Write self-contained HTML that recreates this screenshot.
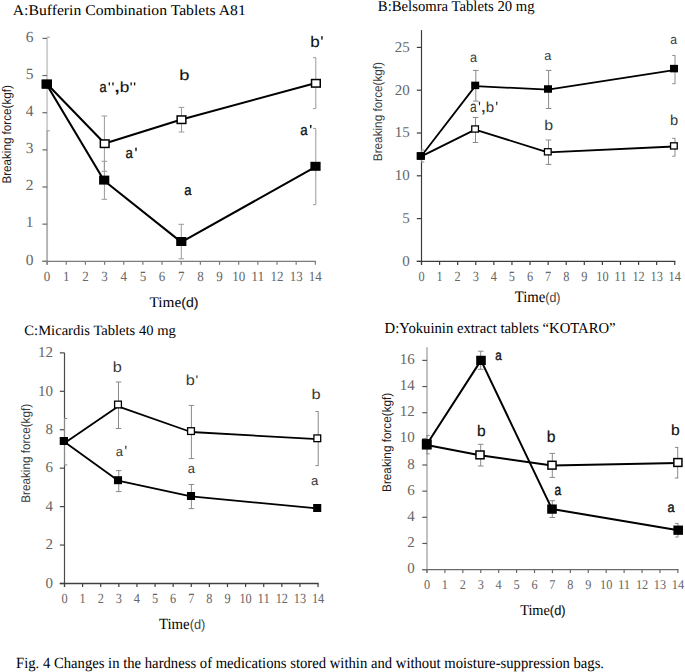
<!DOCTYPE html>
<html><head><meta charset="utf-8"><style>
html,body{margin:0;padding:0;background:#fff;overflow:hidden;width:685px;height:672px;}
svg{display:block;text-rendering:geometricPrecision;}
.S{font-family:"Liberation Serif", serif;}
.A{font-family:"Liberation Sans", sans-serif;}
</style></head><body>
<svg width="685" height="672" viewBox="0 0 685 672">
<rect width="685" height="672" fill="#fff"/>
<line x1="47.1" y1="38.4" x2="47.1" y2="130.8" stroke="#cfcfcf" stroke-width="1.9"/>
<line x1="47.1" y1="130.8" x2="47.1" y2="264.8" stroke="#b2b2b2" stroke-width="1.9"/>
<line x1="42.4" y1="261.30" x2="47.1" y2="261.30" stroke="#6a6a6a" stroke-width="1.2"/>
<line x1="42.4" y1="224.15" x2="47.1" y2="224.15" stroke="#6a6a6a" stroke-width="1.2"/>
<line x1="42.4" y1="187.00" x2="47.1" y2="187.00" stroke="#6a6a6a" stroke-width="1.2"/>
<line x1="42.4" y1="149.85" x2="47.1" y2="149.85" stroke="#6a6a6a" stroke-width="1.2"/>
<line x1="42.4" y1="112.70" x2="47.1" y2="112.70" stroke="#6a6a6a" stroke-width="1.2"/>
<line x1="42.4" y1="75.55" x2="47.1" y2="75.55" stroke="#6a6a6a" stroke-width="1.2"/>
<line x1="42.4" y1="38.40" x2="47.1" y2="38.40" stroke="#6a6a6a" stroke-width="1.2"/>
<line x1="42.4" y1="261.3" x2="315.94000000000005" y2="261.3" stroke="#7a7a7a" stroke-width="1.3"/>
<line x1="47.10" y1="261.3" x2="47.10" y2="264.8" stroke="#7a7a7a" stroke-width="1.2"/>
<line x1="66.26" y1="261.3" x2="66.26" y2="264.8" stroke="#7a7a7a" stroke-width="1.2"/>
<line x1="85.42" y1="261.3" x2="85.42" y2="264.8" stroke="#7a7a7a" stroke-width="1.2"/>
<line x1="104.58" y1="261.3" x2="104.58" y2="264.8" stroke="#7a7a7a" stroke-width="1.2"/>
<line x1="123.74" y1="261.3" x2="123.74" y2="264.8" stroke="#7a7a7a" stroke-width="1.2"/>
<line x1="142.90" y1="261.3" x2="142.90" y2="264.8" stroke="#7a7a7a" stroke-width="1.2"/>
<line x1="162.06" y1="261.3" x2="162.06" y2="264.8" stroke="#7a7a7a" stroke-width="1.2"/>
<line x1="181.22" y1="261.3" x2="181.22" y2="264.8" stroke="#7a7a7a" stroke-width="1.2"/>
<line x1="200.38" y1="261.3" x2="200.38" y2="264.8" stroke="#7a7a7a" stroke-width="1.2"/>
<line x1="219.54" y1="261.3" x2="219.54" y2="264.8" stroke="#7a7a7a" stroke-width="1.2"/>
<line x1="238.70" y1="261.3" x2="238.70" y2="264.8" stroke="#7a7a7a" stroke-width="1.2"/>
<line x1="257.86" y1="261.3" x2="257.86" y2="264.8" stroke="#7a7a7a" stroke-width="1.2"/>
<line x1="277.02" y1="261.3" x2="277.02" y2="264.8" stroke="#7a7a7a" stroke-width="1.2"/>
<line x1="296.18" y1="261.3" x2="296.18" y2="264.8" stroke="#7a7a7a" stroke-width="1.2"/>
<line x1="315.34" y1="261.3" x2="315.34" y2="264.8" stroke="#7a7a7a" stroke-width="1.2"/>
<line x1="104.4" y1="116" x2="104.4" y2="171.3" stroke="#9a9a9a" stroke-width="1"/>
<line x1="101.60000000000001" y1="116" x2="107.2" y2="116" stroke="#9a9a9a" stroke-width="1"/>
<line x1="101.60000000000001" y1="171.3" x2="107.2" y2="171.3" stroke="#9a9a9a" stroke-width="1"/>
<line x1="181.5" y1="107.4" x2="181.5" y2="132" stroke="#9a9a9a" stroke-width="1"/>
<line x1="178.7" y1="107.4" x2="184.3" y2="107.4" stroke="#9a9a9a" stroke-width="1"/>
<line x1="178.7" y1="132" x2="184.3" y2="132" stroke="#9a9a9a" stroke-width="1"/>
<line x1="315.8" y1="57.7" x2="315.8" y2="108.6" stroke="#9a9a9a" stroke-width="1"/>
<line x1="313.0" y1="57.7" x2="315.84000000000003" y2="57.7" stroke="#9a9a9a" stroke-width="1"/>
<line x1="313.0" y1="108.6" x2="315.84000000000003" y2="108.6" stroke="#9a9a9a" stroke-width="1"/>
<line x1="104.4" y1="161.3" x2="104.4" y2="199.3" stroke="#9a9a9a" stroke-width="1"/>
<line x1="101.60000000000001" y1="161.3" x2="107.2" y2="161.3" stroke="#9a9a9a" stroke-width="1"/>
<line x1="101.60000000000001" y1="199.3" x2="107.2" y2="199.3" stroke="#9a9a9a" stroke-width="1"/>
<line x1="181.3" y1="224.3" x2="181.3" y2="258.8" stroke="#9a9a9a" stroke-width="1"/>
<line x1="178.5" y1="224.3" x2="184.10000000000002" y2="224.3" stroke="#9a9a9a" stroke-width="1"/>
<line x1="178.5" y1="258.8" x2="184.10000000000002" y2="258.8" stroke="#9a9a9a" stroke-width="1"/>
<line x1="315.8" y1="128.4" x2="315.8" y2="204.7" stroke="#9a9a9a" stroke-width="1"/>
<line x1="313.0" y1="128.4" x2="315.84000000000003" y2="128.4" stroke="#9a9a9a" stroke-width="1"/>
<line x1="313.0" y1="204.7" x2="315.84000000000003" y2="204.7" stroke="#9a9a9a" stroke-width="1"/>
<line x1="46.6" y1="37.2" x2="49.9" y2="37.2" stroke="#9a9a9a" stroke-width="1"/>
<line x1="46.6" y1="130.8" x2="49.9" y2="130.8" stroke="#9a9a9a" stroke-width="1"/>
<polyline points="46.80,83.80 104.70,143.40 181.50,119.40 315.90,83.00" fill="none" stroke="#000" stroke-width="2.1" stroke-linejoin="round"/>
<polyline points="46.80,84.70 104.20,180.70 181.30,242.10 315.50,166.90" fill="none" stroke="#000" stroke-width="2.1" stroke-linejoin="round"/>
<rect x="42.45" y="80.35" width="8.70" height="7.50" fill="#fff" stroke="#000" stroke-width="1.5"/>
<rect x="100.35" y="139.95" width="8.70" height="7.50" fill="#fff" stroke="#000" stroke-width="1.5"/>
<rect x="177.15" y="115.95" width="8.70" height="7.50" fill="#fff" stroke="#000" stroke-width="1.5"/>
<rect x="311.55" y="79.55" width="8.70" height="7.50" fill="#fff" stroke="#000" stroke-width="1.5"/>
<rect x="41.70" y="79.60" width="10.2" height="9.0" fill="#000"/>
<rect x="99.10" y="175.60" width="10.2" height="9.0" fill="#000"/>
<rect x="176.20" y="237.00" width="10.2" height="9.0" fill="#000"/>
<rect x="310.40" y="161.80" width="10.2" height="9.0" fill="#000"/>
<line x1="421.5" y1="30.1" x2="421.5" y2="264.9" stroke="#3c3c3c" stroke-width="1.2"/>
<line x1="416.8" y1="261.40" x2="421.5" y2="261.40" stroke="#3c3c3c" stroke-width="1.2"/>
<line x1="416.8" y1="218.60" x2="421.5" y2="218.60" stroke="#3c3c3c" stroke-width="1.2"/>
<line x1="416.8" y1="175.80" x2="421.5" y2="175.80" stroke="#3c3c3c" stroke-width="1.2"/>
<line x1="416.8" y1="133.00" x2="421.5" y2="133.00" stroke="#3c3c3c" stroke-width="1.2"/>
<line x1="416.8" y1="90.20" x2="421.5" y2="90.20" stroke="#3c3c3c" stroke-width="1.2"/>
<line x1="416.8" y1="47.40" x2="421.5" y2="47.40" stroke="#3c3c3c" stroke-width="1.2"/>
<line x1="416.8" y1="261.4" x2="675.36" y2="261.4" stroke="#3c3c3c" stroke-width="1.3"/>
<line x1="421.50" y1="261.4" x2="421.50" y2="264.9" stroke="#3c3c3c" stroke-width="1.2"/>
<line x1="439.59" y1="261.4" x2="439.59" y2="264.9" stroke="#3c3c3c" stroke-width="1.2"/>
<line x1="457.68" y1="261.4" x2="457.68" y2="264.9" stroke="#3c3c3c" stroke-width="1.2"/>
<line x1="475.77" y1="261.4" x2="475.77" y2="264.9" stroke="#3c3c3c" stroke-width="1.2"/>
<line x1="493.86" y1="261.4" x2="493.86" y2="264.9" stroke="#3c3c3c" stroke-width="1.2"/>
<line x1="511.95" y1="261.4" x2="511.95" y2="264.9" stroke="#3c3c3c" stroke-width="1.2"/>
<line x1="530.04" y1="261.4" x2="530.04" y2="264.9" stroke="#3c3c3c" stroke-width="1.2"/>
<line x1="548.13" y1="261.4" x2="548.13" y2="264.9" stroke="#3c3c3c" stroke-width="1.2"/>
<line x1="566.22" y1="261.4" x2="566.22" y2="264.9" stroke="#3c3c3c" stroke-width="1.2"/>
<line x1="584.31" y1="261.4" x2="584.31" y2="264.9" stroke="#3c3c3c" stroke-width="1.2"/>
<line x1="602.40" y1="261.4" x2="602.40" y2="264.9" stroke="#3c3c3c" stroke-width="1.2"/>
<line x1="620.49" y1="261.4" x2="620.49" y2="264.9" stroke="#3c3c3c" stroke-width="1.2"/>
<line x1="638.58" y1="261.4" x2="638.58" y2="264.9" stroke="#3c3c3c" stroke-width="1.2"/>
<line x1="656.67" y1="261.4" x2="656.67" y2="264.9" stroke="#3c3c3c" stroke-width="1.2"/>
<line x1="674.76" y1="261.4" x2="674.76" y2="264.9" stroke="#3c3c3c" stroke-width="1.2"/>
<line x1="475.5" y1="117.5" x2="475.5" y2="142.5" stroke="#8a8a8a" stroke-width="1"/>
<line x1="472.7" y1="117.5" x2="478.3" y2="117.5" stroke="#8a8a8a" stroke-width="1"/>
<line x1="472.7" y1="142.5" x2="478.3" y2="142.5" stroke="#8a8a8a" stroke-width="1"/>
<line x1="548.5" y1="140" x2="548.5" y2="164.4" stroke="#8a8a8a" stroke-width="1"/>
<line x1="545.7" y1="140" x2="551.3" y2="140" stroke="#8a8a8a" stroke-width="1"/>
<line x1="545.7" y1="164.4" x2="551.3" y2="164.4" stroke="#8a8a8a" stroke-width="1"/>
<line x1="675.0" y1="138.3" x2="675.0" y2="156.2" stroke="#8a8a8a" stroke-width="1"/>
<line x1="672.2" y1="138.3" x2="675.26" y2="138.3" stroke="#8a8a8a" stroke-width="1"/>
<line x1="672.2" y1="156.2" x2="675.26" y2="156.2" stroke="#8a8a8a" stroke-width="1"/>
<line x1="475.8" y1="70.4" x2="475.8" y2="101.1" stroke="#8a8a8a" stroke-width="1"/>
<line x1="473.0" y1="70.4" x2="478.6" y2="70.4" stroke="#8a8a8a" stroke-width="1"/>
<line x1="473.0" y1="101.1" x2="478.6" y2="101.1" stroke="#8a8a8a" stroke-width="1"/>
<line x1="548.6" y1="70.4" x2="548.6" y2="108.5" stroke="#8a8a8a" stroke-width="1"/>
<line x1="545.8000000000001" y1="70.4" x2="551.4" y2="70.4" stroke="#8a8a8a" stroke-width="1"/>
<line x1="545.8000000000001" y1="108.5" x2="551.4" y2="108.5" stroke="#8a8a8a" stroke-width="1"/>
<line x1="675.0" y1="55.4" x2="675.0" y2="83.7" stroke="#8a8a8a" stroke-width="1"/>
<line x1="672.2" y1="55.4" x2="675.26" y2="55.4" stroke="#8a8a8a" stroke-width="1"/>
<line x1="672.2" y1="83.7" x2="675.26" y2="83.7" stroke="#8a8a8a" stroke-width="1"/>
<line x1="421.5" y1="150" x2="421.5" y2="162" stroke="#8a8a8a" stroke-width="1"/>
<line x1="421.0" y1="150" x2="424.3" y2="150" stroke="#8a8a8a" stroke-width="1"/>
<line x1="421.0" y1="162" x2="424.3" y2="162" stroke="#8a8a8a" stroke-width="1"/>
<polyline points="420.80,156.60 475.10,129.60 547.80,152.40 673.90,146.50" fill="none" stroke="#000" stroke-width="1.8" stroke-linejoin="round"/>
<polyline points="420.80,156.70 475.20,86.10 548.00,89.70 674.00,70.10" fill="none" stroke="#000" stroke-width="1.8" stroke-linejoin="round"/>
<rect x="417.45" y="152.90" width="6.70" height="6.20" fill="#fff" stroke="#000" stroke-width="1.3"/>
<rect x="471.75" y="125.90" width="6.70" height="6.20" fill="#fff" stroke="#000" stroke-width="1.3"/>
<rect x="544.45" y="148.70" width="6.70" height="6.20" fill="#fff" stroke="#000" stroke-width="1.3"/>
<rect x="670.55" y="142.80" width="6.70" height="6.20" fill="#fff" stroke="#000" stroke-width="1.3"/>
<rect x="416.80" y="152.25" width="8.0" height="7.5" fill="#000"/>
<rect x="471.20" y="81.65" width="8.0" height="7.5" fill="#000"/>
<rect x="544.00" y="85.25" width="8.0" height="7.5" fill="#000"/>
<rect x="670.00" y="64.85" width="8.0" height="7.5" fill="#000"/>
<line x1="64.5" y1="352.8" x2="64.5" y2="587.0" stroke="#4a4a4a" stroke-width="1.2"/>
<line x1="59.8" y1="583.50" x2="64.5" y2="583.50" stroke="#4a4a4a" stroke-width="1.2"/>
<line x1="59.8" y1="545.06" x2="64.5" y2="545.06" stroke="#4a4a4a" stroke-width="1.2"/>
<line x1="59.8" y1="506.62" x2="64.5" y2="506.62" stroke="#4a4a4a" stroke-width="1.2"/>
<line x1="59.8" y1="468.18" x2="64.5" y2="468.18" stroke="#4a4a4a" stroke-width="1.2"/>
<line x1="59.8" y1="429.74" x2="64.5" y2="429.74" stroke="#4a4a4a" stroke-width="1.2"/>
<line x1="59.8" y1="391.30" x2="64.5" y2="391.30" stroke="#4a4a4a" stroke-width="1.2"/>
<line x1="59.8" y1="352.86" x2="64.5" y2="352.86" stroke="#4a4a4a" stroke-width="1.2"/>
<line x1="59.8" y1="583.5" x2="318.64" y2="583.5" stroke="#404040" stroke-width="1.3"/>
<line x1="64.50" y1="583.5" x2="64.50" y2="587.0" stroke="#404040" stroke-width="1.2"/>
<line x1="82.61" y1="583.5" x2="82.61" y2="587.0" stroke="#404040" stroke-width="1.2"/>
<line x1="100.72" y1="583.5" x2="100.72" y2="587.0" stroke="#404040" stroke-width="1.2"/>
<line x1="118.83" y1="583.5" x2="118.83" y2="587.0" stroke="#404040" stroke-width="1.2"/>
<line x1="136.94" y1="583.5" x2="136.94" y2="587.0" stroke="#404040" stroke-width="1.2"/>
<line x1="155.05" y1="583.5" x2="155.05" y2="587.0" stroke="#404040" stroke-width="1.2"/>
<line x1="173.16" y1="583.5" x2="173.16" y2="587.0" stroke="#404040" stroke-width="1.2"/>
<line x1="191.27" y1="583.5" x2="191.27" y2="587.0" stroke="#404040" stroke-width="1.2"/>
<line x1="209.38" y1="583.5" x2="209.38" y2="587.0" stroke="#404040" stroke-width="1.2"/>
<line x1="227.49" y1="583.5" x2="227.49" y2="587.0" stroke="#404040" stroke-width="1.2"/>
<line x1="245.60" y1="583.5" x2="245.60" y2="587.0" stroke="#404040" stroke-width="1.2"/>
<line x1="263.71" y1="583.5" x2="263.71" y2="587.0" stroke="#404040" stroke-width="1.2"/>
<line x1="281.82" y1="583.5" x2="281.82" y2="587.0" stroke="#404040" stroke-width="1.2"/>
<line x1="299.93" y1="583.5" x2="299.93" y2="587.0" stroke="#404040" stroke-width="1.2"/>
<line x1="318.04" y1="583.5" x2="318.04" y2="587.0" stroke="#404040" stroke-width="1.2"/>
<line x1="118.5" y1="382" x2="118.5" y2="428.5" stroke="#8a8a8a" stroke-width="1"/>
<line x1="115.7" y1="382" x2="121.3" y2="382" stroke="#8a8a8a" stroke-width="1"/>
<line x1="115.7" y1="428.5" x2="121.3" y2="428.5" stroke="#8a8a8a" stroke-width="1"/>
<line x1="191.4" y1="405.4" x2="191.4" y2="458.6" stroke="#8a8a8a" stroke-width="1"/>
<line x1="188.6" y1="405.4" x2="194.20000000000002" y2="405.4" stroke="#8a8a8a" stroke-width="1"/>
<line x1="188.6" y1="458.6" x2="194.20000000000002" y2="458.6" stroke="#8a8a8a" stroke-width="1"/>
<line x1="318.2" y1="411.5" x2="318.2" y2="465.6" stroke="#8a8a8a" stroke-width="1"/>
<line x1="315.4" y1="411.5" x2="318.53999999999996" y2="411.5" stroke="#8a8a8a" stroke-width="1"/>
<line x1="315.4" y1="465.6" x2="318.53999999999996" y2="465.6" stroke="#8a8a8a" stroke-width="1"/>
<line x1="118.75" y1="470.6" x2="118.75" y2="491.6" stroke="#8a8a8a" stroke-width="1"/>
<line x1="115.95" y1="470.6" x2="121.55" y2="470.6" stroke="#8a8a8a" stroke-width="1"/>
<line x1="115.95" y1="491.6" x2="121.55" y2="491.6" stroke="#8a8a8a" stroke-width="1"/>
<line x1="191.4" y1="484.5" x2="191.4" y2="508.6" stroke="#8a8a8a" stroke-width="1"/>
<line x1="188.6" y1="484.5" x2="194.20000000000002" y2="484.5" stroke="#8a8a8a" stroke-width="1"/>
<line x1="188.6" y1="508.6" x2="194.20000000000002" y2="508.6" stroke="#8a8a8a" stroke-width="1"/>
<line x1="318" y1="505" x2="318" y2="511" stroke="#8a8a8a" stroke-width="1"/>
<line x1="315.2" y1="505" x2="318.53999999999996" y2="505" stroke="#8a8a8a" stroke-width="1"/>
<line x1="315.2" y1="511" x2="318.53999999999996" y2="511" stroke="#8a8a8a" stroke-width="1"/>
<line x1="64.5" y1="418.5" x2="64.5" y2="464.9" stroke="#8a8a8a" stroke-width="1"/>
<line x1="64.0" y1="418.5" x2="67.3" y2="418.5" stroke="#8a8a8a" stroke-width="1"/>
<line x1="64.0" y1="464.9" x2="67.3" y2="464.9" stroke="#8a8a8a" stroke-width="1"/>
<polyline points="63.90,443.40 118.00,406.40 191.00,432.00 317.30,439.20" fill="none" stroke="#000" stroke-width="1.8" stroke-linejoin="round"/>
<polyline points="63.90,441.40 118.00,480.60 191.00,496.40 317.20,508.40" fill="none" stroke="#000" stroke-width="1.8" stroke-linejoin="round"/>
<rect x="60.50" y="437.65" width="6.80" height="6.70" fill="#fff" stroke="#000" stroke-width="1.3"/>
<rect x="114.60" y="401.15" width="6.80" height="6.70" fill="#fff" stroke="#000" stroke-width="1.3"/>
<rect x="187.60" y="427.75" width="6.80" height="6.70" fill="#fff" stroke="#000" stroke-width="1.3"/>
<rect x="313.90" y="434.95" width="6.80" height="6.70" fill="#fff" stroke="#000" stroke-width="1.3"/>
<rect x="59.85" y="437.00" width="8.1" height="8.0" fill="#000"/>
<rect x="113.95" y="476.20" width="8.1" height="8.0" fill="#000"/>
<rect x="186.95" y="492.00" width="8.1" height="8.0" fill="#000"/>
<rect x="313.15" y="504.00" width="8.1" height="8.0" fill="#000"/>
<line x1="427.0" y1="347.3" x2="427.0" y2="573.1" stroke="#bebebe" stroke-width="1.9"/>
<line x1="422.3" y1="569.60" x2="427.0" y2="569.60" stroke="#5a5a5a" stroke-width="1.2"/>
<line x1="422.3" y1="543.45" x2="427.0" y2="543.45" stroke="#5a5a5a" stroke-width="1.2"/>
<line x1="422.3" y1="517.30" x2="427.0" y2="517.30" stroke="#5a5a5a" stroke-width="1.2"/>
<line x1="422.3" y1="491.15" x2="427.0" y2="491.15" stroke="#5a5a5a" stroke-width="1.2"/>
<line x1="422.3" y1="465.00" x2="427.0" y2="465.00" stroke="#5a5a5a" stroke-width="1.2"/>
<line x1="422.3" y1="438.85" x2="427.0" y2="438.85" stroke="#5a5a5a" stroke-width="1.2"/>
<line x1="422.3" y1="412.70" x2="427.0" y2="412.70" stroke="#5a5a5a" stroke-width="1.2"/>
<line x1="422.3" y1="386.55" x2="427.0" y2="386.55" stroke="#5a5a5a" stroke-width="1.2"/>
<line x1="422.3" y1="360.40" x2="427.0" y2="360.40" stroke="#5a5a5a" stroke-width="1.2"/>
<line x1="422.3" y1="569.6" x2="678.48" y2="569.6" stroke="#6a6a6a" stroke-width="1.3"/>
<line x1="427.00" y1="569.6" x2="427.00" y2="573.1" stroke="#6a6a6a" stroke-width="1.2"/>
<line x1="444.92" y1="569.6" x2="444.92" y2="573.1" stroke="#6a6a6a" stroke-width="1.2"/>
<line x1="462.84" y1="569.6" x2="462.84" y2="573.1" stroke="#6a6a6a" stroke-width="1.2"/>
<line x1="480.76" y1="569.6" x2="480.76" y2="573.1" stroke="#6a6a6a" stroke-width="1.2"/>
<line x1="498.68" y1="569.6" x2="498.68" y2="573.1" stroke="#6a6a6a" stroke-width="1.2"/>
<line x1="516.60" y1="569.6" x2="516.60" y2="573.1" stroke="#6a6a6a" stroke-width="1.2"/>
<line x1="534.52" y1="569.6" x2="534.52" y2="573.1" stroke="#6a6a6a" stroke-width="1.2"/>
<line x1="552.44" y1="569.6" x2="552.44" y2="573.1" stroke="#6a6a6a" stroke-width="1.2"/>
<line x1="570.36" y1="569.6" x2="570.36" y2="573.1" stroke="#6a6a6a" stroke-width="1.2"/>
<line x1="588.28" y1="569.6" x2="588.28" y2="573.1" stroke="#6a6a6a" stroke-width="1.2"/>
<line x1="606.20" y1="569.6" x2="606.20" y2="573.1" stroke="#6a6a6a" stroke-width="1.2"/>
<line x1="624.12" y1="569.6" x2="624.12" y2="573.1" stroke="#6a6a6a" stroke-width="1.2"/>
<line x1="642.04" y1="569.6" x2="642.04" y2="573.1" stroke="#6a6a6a" stroke-width="1.2"/>
<line x1="659.96" y1="569.6" x2="659.96" y2="573.1" stroke="#6a6a6a" stroke-width="1.2"/>
<line x1="677.88" y1="569.6" x2="677.88" y2="573.1" stroke="#6a6a6a" stroke-width="1.2"/>
<line x1="480.7" y1="444.3" x2="480.7" y2="466" stroke="#8a8a8a" stroke-width="1"/>
<line x1="477.9" y1="444.3" x2="483.5" y2="444.3" stroke="#8a8a8a" stroke-width="1"/>
<line x1="477.9" y1="466" x2="483.5" y2="466" stroke="#8a8a8a" stroke-width="1"/>
<line x1="552.3" y1="453.4" x2="552.3" y2="477.4" stroke="#8a8a8a" stroke-width="1"/>
<line x1="549.5" y1="453.4" x2="555.0999999999999" y2="453.4" stroke="#8a8a8a" stroke-width="1"/>
<line x1="549.5" y1="477.4" x2="555.0999999999999" y2="477.4" stroke="#8a8a8a" stroke-width="1"/>
<line x1="677.7" y1="447.4" x2="677.7" y2="478" stroke="#8a8a8a" stroke-width="1"/>
<line x1="674.9000000000001" y1="447.4" x2="678.38" y2="447.4" stroke="#8a8a8a" stroke-width="1"/>
<line x1="674.9000000000001" y1="478" x2="678.38" y2="478" stroke="#8a8a8a" stroke-width="1"/>
<line x1="480.7" y1="351.2" x2="480.7" y2="369.3" stroke="#8a8a8a" stroke-width="1"/>
<line x1="477.9" y1="351.2" x2="483.5" y2="351.2" stroke="#8a8a8a" stroke-width="1"/>
<line x1="477.9" y1="369.3" x2="483.5" y2="369.3" stroke="#8a8a8a" stroke-width="1"/>
<line x1="552.3" y1="500.7" x2="552.3" y2="517.5" stroke="#8a8a8a" stroke-width="1"/>
<line x1="549.5" y1="500.7" x2="555.0999999999999" y2="500.7" stroke="#8a8a8a" stroke-width="1"/>
<line x1="549.5" y1="517.5" x2="555.0999999999999" y2="517.5" stroke="#8a8a8a" stroke-width="1"/>
<line x1="678" y1="523.4" x2="678" y2="537" stroke="#8a8a8a" stroke-width="1"/>
<line x1="675.2" y1="523.4" x2="678.38" y2="523.4" stroke="#8a8a8a" stroke-width="1"/>
<line x1="675.2" y1="537" x2="678.38" y2="537" stroke="#8a8a8a" stroke-width="1"/>
<line x1="427" y1="435.4" x2="427" y2="453.9" stroke="#8a8a8a" stroke-width="1"/>
<line x1="426.5" y1="435.4" x2="429.8" y2="435.4" stroke="#8a8a8a" stroke-width="1"/>
<line x1="426.5" y1="453.9" x2="429.8" y2="453.9" stroke="#8a8a8a" stroke-width="1"/>
<polyline points="426.70,444.90 480.00,455.30 552.00,465.60 677.90,462.90" fill="none" stroke="#000" stroke-width="2.0" stroke-linejoin="round"/>
<polyline points="426.70,444.50 481.00,360.40 552.00,509.10 678.20,530.20" fill="none" stroke="#000" stroke-width="2.0" stroke-linejoin="round"/>
<rect x="422.65" y="440.60" width="8.10" height="7.80" fill="#fff" stroke="#000" stroke-width="1.5"/>
<rect x="475.95" y="451.00" width="8.10" height="7.80" fill="#fff" stroke="#000" stroke-width="1.5"/>
<rect x="547.95" y="461.30" width="8.10" height="7.80" fill="#fff" stroke="#000" stroke-width="1.5"/>
<rect x="673.85" y="458.60" width="8.10" height="7.80" fill="#fff" stroke="#000" stroke-width="1.5"/>
<rect x="421.90" y="439.10" width="9.6" height="10.4" fill="#000"/>
<rect x="476.20" y="355.75" width="9.6" height="9.3" fill="#000"/>
<rect x="547.20" y="504.45" width="9.6" height="9.3" fill="#000"/>
<rect x="673.40" y="525.55" width="9.6" height="9.3" fill="#000"/>
<text id="Ay0" x="33.50" y="264.60" class="S" font-size="15.5" fill="#666666" text-anchor="end">0</text>
<text id="Ay1" x="33.50" y="227.45" class="S" font-size="15.5" fill="#666666" text-anchor="end">1</text>
<text id="Ay2" x="33.50" y="190.30" class="S" font-size="15.5" fill="#666666" text-anchor="end">2</text>
<text id="Ay3" x="33.50" y="153.15" class="S" font-size="15.5" fill="#666666" text-anchor="end">3</text>
<text id="Ay4" x="33.50" y="116.00" class="S" font-size="15.5" fill="#666666" text-anchor="end">4</text>
<text id="Ay5" x="33.50" y="78.85" class="S" font-size="15.5" fill="#666666" text-anchor="end">5</text>
<text id="Ay6" x="33.50" y="41.70" class="S" font-size="15.5" fill="#666666" text-anchor="end">6</text>
<text id="Ax0" x="47.10" y="280.70" class="S" font-size="14" fill="#666666" text-anchor="middle" textLength="6.51" lengthAdjust="spacingAndGlyphs">0</text>
<text id="Ax1" x="66.26" y="280.70" class="S" font-size="14" fill="#666666" text-anchor="middle" textLength="6.51" lengthAdjust="spacingAndGlyphs">1</text>
<text id="Ax2" x="85.42" y="280.70" class="S" font-size="14" fill="#666666" text-anchor="middle" textLength="6.51" lengthAdjust="spacingAndGlyphs">2</text>
<text id="Ax3" x="104.58" y="280.70" class="S" font-size="14" fill="#666666" text-anchor="middle" textLength="6.51" lengthAdjust="spacingAndGlyphs">3</text>
<text id="Ax4" x="123.74" y="280.70" class="S" font-size="14" fill="#666666" text-anchor="middle" textLength="6.51" lengthAdjust="spacingAndGlyphs">4</text>
<text id="Ax5" x="142.90" y="280.70" class="S" font-size="14" fill="#666666" text-anchor="middle" textLength="6.51" lengthAdjust="spacingAndGlyphs">5</text>
<text id="Ax6" x="162.06" y="280.70" class="S" font-size="14" fill="#666666" text-anchor="middle" textLength="6.51" lengthAdjust="spacingAndGlyphs">6</text>
<text id="Ax7" x="181.22" y="280.70" class="S" font-size="14" fill="#666666" text-anchor="middle" textLength="6.51" lengthAdjust="spacingAndGlyphs">7</text>
<text id="Ax8" x="200.38" y="280.70" class="S" font-size="14" fill="#666666" text-anchor="middle" textLength="6.51" lengthAdjust="spacingAndGlyphs">8</text>
<text id="Ax9" x="219.54" y="280.70" class="S" font-size="14" fill="#666666" text-anchor="middle" textLength="6.51" lengthAdjust="spacingAndGlyphs">9</text>
<text id="Ax10" x="238.70" y="280.70" class="S" font-size="14" fill="#666666" text-anchor="middle" textLength="13.02" lengthAdjust="spacingAndGlyphs">10</text>
<text id="Ax11" x="257.86" y="280.70" class="S" font-size="14" fill="#666666" text-anchor="middle" textLength="13.02" lengthAdjust="spacingAndGlyphs">11</text>
<text id="Ax12" x="277.02" y="280.70" class="S" font-size="14" fill="#666666" text-anchor="middle" textLength="13.02" lengthAdjust="spacingAndGlyphs">12</text>
<text id="Ax13" x="296.18" y="280.70" class="S" font-size="14" fill="#666666" text-anchor="middle" textLength="13.02" lengthAdjust="spacingAndGlyphs">13</text>
<text id="Ax14" x="315.34" y="280.70" class="S" font-size="14" fill="#666666" text-anchor="middle" textLength="13.02" lengthAdjust="spacingAndGlyphs">14</text>
<text id="By0" x="409.70" y="265.80" class="S" font-size="15" fill="#666666" text-anchor="end">0</text>
<text id="By5" x="409.70" y="223.00" class="S" font-size="15" fill="#666666" text-anchor="end">5</text>
<text id="By10" x="409.70" y="180.20" class="S" font-size="15" fill="#666666" text-anchor="end">10</text>
<text id="By15" x="409.70" y="137.40" class="S" font-size="15" fill="#666666" text-anchor="end">15</text>
<text id="By20" x="409.70" y="94.60" class="S" font-size="15" fill="#666666" text-anchor="end">20</text>
<text id="By25" x="409.70" y="51.80" class="S" font-size="15" fill="#666666" text-anchor="end">25</text>
<text id="Bx0" x="421.50" y="280.80" class="S" font-size="14" fill="#666666" text-anchor="middle" textLength="6.16" lengthAdjust="spacingAndGlyphs">0</text>
<text id="Bx1" x="439.59" y="280.80" class="S" font-size="14" fill="#666666" text-anchor="middle" textLength="6.16" lengthAdjust="spacingAndGlyphs">1</text>
<text id="Bx2" x="457.68" y="280.80" class="S" font-size="14" fill="#666666" text-anchor="middle" textLength="6.16" lengthAdjust="spacingAndGlyphs">2</text>
<text id="Bx3" x="475.77" y="280.80" class="S" font-size="14" fill="#666666" text-anchor="middle" textLength="6.16" lengthAdjust="spacingAndGlyphs">3</text>
<text id="Bx4" x="493.86" y="280.80" class="S" font-size="14" fill="#666666" text-anchor="middle" textLength="6.16" lengthAdjust="spacingAndGlyphs">4</text>
<text id="Bx5" x="511.95" y="280.80" class="S" font-size="14" fill="#666666" text-anchor="middle" textLength="6.16" lengthAdjust="spacingAndGlyphs">5</text>
<text id="Bx6" x="530.04" y="280.80" class="S" font-size="14" fill="#666666" text-anchor="middle" textLength="6.16" lengthAdjust="spacingAndGlyphs">6</text>
<text id="Bx7" x="548.13" y="280.80" class="S" font-size="14" fill="#666666" text-anchor="middle" textLength="6.16" lengthAdjust="spacingAndGlyphs">7</text>
<text id="Bx8" x="566.22" y="280.80" class="S" font-size="14" fill="#666666" text-anchor="middle" textLength="6.16" lengthAdjust="spacingAndGlyphs">8</text>
<text id="Bx9" x="584.31" y="280.80" class="S" font-size="14" fill="#666666" text-anchor="middle" textLength="6.16" lengthAdjust="spacingAndGlyphs">9</text>
<text id="Bx10" x="602.40" y="280.80" class="S" font-size="14" fill="#666666" text-anchor="middle" textLength="12.32" lengthAdjust="spacingAndGlyphs">10</text>
<text id="Bx11" x="620.49" y="280.80" class="S" font-size="14" fill="#666666" text-anchor="middle" textLength="12.32" lengthAdjust="spacingAndGlyphs">11</text>
<text id="Bx12" x="638.58" y="280.80" class="S" font-size="14" fill="#666666" text-anchor="middle" textLength="12.32" lengthAdjust="spacingAndGlyphs">12</text>
<text id="Bx13" x="656.67" y="280.80" class="S" font-size="14" fill="#666666" text-anchor="middle" textLength="12.32" lengthAdjust="spacingAndGlyphs">13</text>
<text id="Bx14" x="674.76" y="280.80" class="S" font-size="14" fill="#666666" text-anchor="middle" textLength="12.32" lengthAdjust="spacingAndGlyphs">14</text>
<text id="Cy0" x="52.90" y="587.70" class="S" font-size="15" fill="#666666" text-anchor="end">0</text>
<text id="Cy2" x="52.90" y="549.26" class="S" font-size="15" fill="#666666" text-anchor="end">2</text>
<text id="Cy4" x="52.90" y="510.82" class="S" font-size="15" fill="#666666" text-anchor="end">4</text>
<text id="Cy6" x="52.90" y="472.38" class="S" font-size="15" fill="#666666" text-anchor="end">6</text>
<text id="Cy8" x="52.90" y="433.94" class="S" font-size="15" fill="#666666" text-anchor="end">8</text>
<text id="Cy10" x="52.90" y="395.50" class="S" font-size="15" fill="#666666" text-anchor="end">10</text>
<text id="Cy12" x="52.90" y="357.06" class="S" font-size="15" fill="#666666" text-anchor="end">12</text>
<text id="Cx0" x="64.50" y="602.80" class="S" font-size="14" fill="#666666" text-anchor="middle" textLength="6.16" lengthAdjust="spacingAndGlyphs">0</text>
<text id="Cx1" x="82.61" y="602.80" class="S" font-size="14" fill="#666666" text-anchor="middle" textLength="6.16" lengthAdjust="spacingAndGlyphs">1</text>
<text id="Cx2" x="100.72" y="602.80" class="S" font-size="14" fill="#666666" text-anchor="middle" textLength="6.16" lengthAdjust="spacingAndGlyphs">2</text>
<text id="Cx3" x="118.83" y="602.80" class="S" font-size="14" fill="#666666" text-anchor="middle" textLength="6.16" lengthAdjust="spacingAndGlyphs">3</text>
<text id="Cx4" x="136.94" y="602.80" class="S" font-size="14" fill="#666666" text-anchor="middle" textLength="6.16" lengthAdjust="spacingAndGlyphs">4</text>
<text id="Cx5" x="155.05" y="602.80" class="S" font-size="14" fill="#666666" text-anchor="middle" textLength="6.16" lengthAdjust="spacingAndGlyphs">5</text>
<text id="Cx6" x="173.16" y="602.80" class="S" font-size="14" fill="#666666" text-anchor="middle" textLength="6.16" lengthAdjust="spacingAndGlyphs">6</text>
<text id="Cx7" x="191.27" y="602.80" class="S" font-size="14" fill="#666666" text-anchor="middle" textLength="6.16" lengthAdjust="spacingAndGlyphs">7</text>
<text id="Cx8" x="209.38" y="602.80" class="S" font-size="14" fill="#666666" text-anchor="middle" textLength="6.16" lengthAdjust="spacingAndGlyphs">8</text>
<text id="Cx9" x="227.49" y="602.80" class="S" font-size="14" fill="#666666" text-anchor="middle" textLength="6.16" lengthAdjust="spacingAndGlyphs">9</text>
<text id="Cx10" x="245.60" y="602.80" class="S" font-size="14" fill="#666666" text-anchor="middle" textLength="12.32" lengthAdjust="spacingAndGlyphs">10</text>
<text id="Cx11" x="263.71" y="602.80" class="S" font-size="14" fill="#666666" text-anchor="middle" textLength="12.32" lengthAdjust="spacingAndGlyphs">11</text>
<text id="Cx12" x="281.82" y="602.80" class="S" font-size="14" fill="#666666" text-anchor="middle" textLength="12.32" lengthAdjust="spacingAndGlyphs">12</text>
<text id="Cx13" x="299.93" y="602.80" class="S" font-size="14" fill="#666666" text-anchor="middle" textLength="12.32" lengthAdjust="spacingAndGlyphs">13</text>
<text id="Cx14" x="318.04" y="602.80" class="S" font-size="14" fill="#666666" text-anchor="middle" textLength="12.32" lengthAdjust="spacingAndGlyphs">14</text>
<text id="Dy0" x="414.70" y="573.20" class="S" font-size="15" fill="#666666" text-anchor="end">0</text>
<text id="Dy2" x="414.70" y="547.05" class="S" font-size="15" fill="#666666" text-anchor="end">2</text>
<text id="Dy4" x="414.70" y="520.90" class="S" font-size="15" fill="#666666" text-anchor="end">4</text>
<text id="Dy6" x="414.70" y="494.75" class="S" font-size="15" fill="#666666" text-anchor="end">6</text>
<text id="Dy8" x="414.70" y="468.60" class="S" font-size="15" fill="#666666" text-anchor="end">8</text>
<text id="Dy10" x="414.70" y="442.45" class="S" font-size="15" fill="#666666" text-anchor="end">10</text>
<text id="Dy12" x="414.70" y="416.30" class="S" font-size="15" fill="#666666" text-anchor="end">12</text>
<text id="Dy14" x="414.70" y="390.15" class="S" font-size="15" fill="#666666" text-anchor="end">14</text>
<text id="Dy16" x="414.70" y="364.00" class="S" font-size="15" fill="#666666" text-anchor="end">16</text>
<text id="Dx0" x="427.00" y="588.80" class="S" font-size="13.4" fill="#666666" text-anchor="middle" textLength="6.16" lengthAdjust="spacingAndGlyphs">0</text>
<text id="Dx1" x="444.92" y="588.80" class="S" font-size="13.4" fill="#666666" text-anchor="middle" textLength="6.16" lengthAdjust="spacingAndGlyphs">1</text>
<text id="Dx2" x="462.84" y="588.80" class="S" font-size="13.4" fill="#666666" text-anchor="middle" textLength="6.16" lengthAdjust="spacingAndGlyphs">2</text>
<text id="Dx3" x="480.76" y="588.80" class="S" font-size="13.4" fill="#666666" text-anchor="middle" textLength="6.16" lengthAdjust="spacingAndGlyphs">3</text>
<text id="Dx4" x="498.68" y="588.80" class="S" font-size="13.4" fill="#666666" text-anchor="middle" textLength="6.16" lengthAdjust="spacingAndGlyphs">4</text>
<text id="Dx5" x="516.60" y="588.80" class="S" font-size="13.4" fill="#666666" text-anchor="middle" textLength="6.16" lengthAdjust="spacingAndGlyphs">5</text>
<text id="Dx6" x="534.52" y="588.80" class="S" font-size="13.4" fill="#666666" text-anchor="middle" textLength="6.16" lengthAdjust="spacingAndGlyphs">6</text>
<text id="Dx7" x="552.44" y="588.80" class="S" font-size="13.4" fill="#666666" text-anchor="middle" textLength="6.16" lengthAdjust="spacingAndGlyphs">7</text>
<text id="Dx8" x="570.36" y="588.80" class="S" font-size="13.4" fill="#666666" text-anchor="middle" textLength="6.16" lengthAdjust="spacingAndGlyphs">8</text>
<text id="Dx9" x="588.28" y="588.80" class="S" font-size="13.4" fill="#666666" text-anchor="middle" textLength="6.16" lengthAdjust="spacingAndGlyphs">9</text>
<text id="Dx10" x="606.20" y="588.80" class="S" font-size="13.4" fill="#666666" text-anchor="middle" textLength="12.32" lengthAdjust="spacingAndGlyphs">10</text>
<text id="Dx11" x="624.12" y="588.80" class="S" font-size="13.4" fill="#666666" text-anchor="middle" textLength="12.32" lengthAdjust="spacingAndGlyphs">11</text>
<text id="Dx12" x="642.04" y="588.80" class="S" font-size="13.4" fill="#666666" text-anchor="middle" textLength="12.32" lengthAdjust="spacingAndGlyphs">12</text>
<text id="Dx13" x="659.96" y="588.80" class="S" font-size="13.4" fill="#666666" text-anchor="middle" textLength="12.32" lengthAdjust="spacingAndGlyphs">13</text>
<text id="Dx14" x="677.88" y="588.80" class="S" font-size="13.4" fill="#666666" text-anchor="middle" textLength="12.32" lengthAdjust="spacingAndGlyphs">14</text>
<text id="tA" x="12.79" y="15.14" class="S" font-size="14.79" fill="#000" textLength="232.97" lengthAdjust="spacingAndGlyphs">A:Bufferin Combination Tablets A81</text>
<text id="tB" x="377.86" y="11.26" class="S" font-size="15.06" fill="#000" textLength="156.74" lengthAdjust="spacingAndGlyphs">B:Belsomra Tablets 20 mg</text>
<text id="tC" x="24.37" y="334.61" class="S" font-size="14.32" fill="#000" textLength="151.46" lengthAdjust="spacingAndGlyphs">C:Micardis Tablets 40 mg</text>
<text id="tD" x="384.59" y="333.00" class="S" font-size="15.15" fill="#000" textLength="230.97" lengthAdjust="spacingAndGlyphs">D:Yokuinin extract tablets “KOTARO”</text>
<text id="cap" x="16.00" y="667.98" class="S" font-size="15.57" fill="#000" textLength="588.04" lengthAdjust="spacingAndGlyphs">Fig. 4 Changes in the hardness of medications stored within and without moisture-suppression bags.</text>
<text id="timeA" x="149.44" y="307.00" class="S" font-size="14.63" fill="#000" textLength="49.04" lengthAdjust="spacingAndGlyphs">Time<tspan class="A" font-size="13.5" fill="#111" stroke="#111" stroke-width="0.15">(d)</tspan></text>
<text id="timeB" x="514.74" y="302.48" class="S" font-size="15.97" fill="#000" textLength="45.78" lengthAdjust="spacingAndGlyphs">Time<tspan class="A" font-size="13.5" fill="#444">(d)</tspan></text>
<text id="timeC" x="158.97" y="629.00" class="S" font-size="15.56" fill="#000" textLength="46.42" lengthAdjust="spacingAndGlyphs">Time<tspan class="A" font-size="13.5" fill="#444">(d)</tspan></text>
<text id="timeD" x="520.15" y="614.50" class="S" font-size="15.08" fill="#000" textLength="45.39" lengthAdjust="spacingAndGlyphs">Time<tspan class="A" font-size="13.5" fill="#111" stroke="#111" stroke-width="0.15">(d)</tspan></text>
<text id="ylA" x="11.37" y="183.60" class="A" font-size="12.5" fill="#1a1a1a" textLength="98.42" lengthAdjust="spacingAndGlyphs" transform="rotate(-90 11.37 183.60)">Breaking force(kgf)</text>
<text id="ylB" x="381.92" y="161.16" class="A" font-size="12.5" fill="#3a3a3a" textLength="99.21" lengthAdjust="spacingAndGlyphs" transform="rotate(-90 381.92 161.16)">Breaking force(kgf)</text>
<text id="ylC" x="30.06" y="502.69" class="A" font-size="12.5" fill="#3a3a3a" textLength="98.75" lengthAdjust="spacingAndGlyphs" transform="rotate(-90 30.06 502.69)">Breaking force(kgf)</text>
<text id="ylD" x="391.05" y="491.91" class="A" font-size="12.5" fill="#1a1a1a" textLength="99.15" lengthAdjust="spacingAndGlyphs" transform="rotate(-90 391.05 491.91)">Breaking force(kgf)</text>
<text id="gA1a" x="99.38" y="92.20" class="A" font-size="15.1" fill="#111" textLength="7.06" lengthAdjust="spacingAndGlyphs" stroke="#111" stroke-width="0.35">a</text>
<text id="gA1c" x="113.59" y="92.42" class="A" font-size="19.84" fill="#111" textLength="7.14" lengthAdjust="spacingAndGlyphs" stroke="#111" stroke-width="0.15">,</text>
<text id="gA1b" x="119.75" y="92.33" class="A" font-size="14.65" fill="#111" textLength="9.60" lengthAdjust="spacingAndGlyphs" stroke="#111" stroke-width="0.1">b</text>
<text id="gA2b" x="179.15" y="79.52" class="A" font-size="14.61" fill="#111" textLength="10.20" lengthAdjust="spacingAndGlyphs" stroke="#111" stroke-width="0.1">b</text>
<text id="gA3b" x="310.35" y="47.49" class="A" font-size="15.5" fill="#111" textLength="9.47" lengthAdjust="spacingAndGlyphs" stroke="#111" stroke-width="0.1">b</text>
<text id="gA4a" x="125.59" y="158.31" class="A" font-size="15.05" fill="#111" textLength="7.34" lengthAdjust="spacingAndGlyphs" stroke="#111" stroke-width="0.35">a</text>
<text id="gA5a" x="184.17" y="194.51" class="A" font-size="14.67" fill="#111" textLength="7.28" lengthAdjust="spacingAndGlyphs" stroke="#111" stroke-width="0.35">a</text>
<text id="gA6a" x="300.36" y="135.42" class="A" font-size="15.0" fill="#111" textLength="7.38" lengthAdjust="spacingAndGlyphs" stroke="#111" stroke-width="0.35">a</text>
<text id="gB1a" x="469.95" y="61.83" class="A" font-size="13.9" fill="#383838" textLength="7.05" lengthAdjust="spacingAndGlyphs">a</text>
<text id="gB2a" x="544.13" y="60.41" class="A" font-size="13.08" fill="#383838" textLength="7.07" lengthAdjust="spacingAndGlyphs">a</text>
<text id="gB3a" x="670.36" y="43.51" class="A" font-size="13.3" fill="#383838" textLength="6.77" lengthAdjust="spacingAndGlyphs">a</text>
<text id="gB4a" x="470.09" y="111.77" class="A" font-size="15.61" fill="#383838" textLength="6.73" lengthAdjust="spacingAndGlyphs">a</text>
<text id="gB4c" x="480.26" y="111.97" class="A" font-size="19.7" fill="#383838" textLength="6.22" lengthAdjust="spacingAndGlyphs">,</text>
<text id="gB4b" x="485.88" y="111.69" class="A" font-size="14.36" fill="#383838" textLength="8.39" lengthAdjust="spacingAndGlyphs">b</text>
<text id="gB5b" x="544.20" y="130.24" class="A" font-size="14.29" fill="#383838" textLength="8.89" lengthAdjust="spacingAndGlyphs">b</text>
<text id="gB6b" x="669.99" y="125.39" class="A" font-size="14.43" fill="#383838" textLength="8.17" lengthAdjust="spacingAndGlyphs">b</text>
<text id="gC1b" x="112.88" y="372.45" class="A" font-size="14.73" fill="#383838" textLength="9.11" lengthAdjust="spacingAndGlyphs">b</text>
<text id="gC2a" x="115.85" y="455.51" class="A" font-size="13.11" fill="#383838" textLength="7.23" lengthAdjust="spacingAndGlyphs" stroke="#383838" stroke-width="0.05">a</text>
<text id="gC3b" x="185.76" y="385.24" class="A" font-size="14.39" fill="#383838" textLength="9.12" lengthAdjust="spacingAndGlyphs">b</text>
<text id="gC4a" x="187.75" y="473.49" class="A" font-size="13.26" fill="#383838" textLength="7.22" lengthAdjust="spacingAndGlyphs" stroke="#383838" stroke-width="0.05">a</text>
<text id="gC5b" x="311.44" y="399.46" class="A" font-size="13.99" fill="#383838" textLength="9.16" lengthAdjust="spacingAndGlyphs">b</text>
<text id="gC6a" x="310.95" y="484.87" class="A" font-size="12.84" fill="#383838" textLength="7.34" lengthAdjust="spacingAndGlyphs" stroke="#383838" stroke-width="0.05">a</text>
<text id="gD1a" x="495.17" y="360.40" class="A" font-size="14.05" fill="#111" textLength="6.45" lengthAdjust="spacingAndGlyphs" stroke="#111" stroke-width="0.45">a</text>
<text id="gD2b" x="476.92" y="436.35" class="A" font-size="15.29" fill="#111" textLength="8.64" lengthAdjust="spacingAndGlyphs" stroke="#111" stroke-width="0.2">b</text>
<text id="gD3b" x="546.83" y="441.58" class="A" font-size="15.73" fill="#111" textLength="8.75" lengthAdjust="spacingAndGlyphs" stroke="#111" stroke-width="0.2">b</text>
<text id="gD4a" x="554.61" y="494.58" class="A" font-size="15.24" fill="#111" textLength="6.66" lengthAdjust="spacingAndGlyphs" stroke="#111" stroke-width="0.45">a</text>
<text id="gD5b" x="671.11" y="434.67" class="A" font-size="14.87" fill="#111" textLength="8.73" lengthAdjust="spacingAndGlyphs" stroke="#111" stroke-width="0.2">b</text>
<text id="gD6a" x="667.46" y="511.90" class="A" font-size="14.07" fill="#111" textLength="7.04" lengthAdjust="spacingAndGlyphs" stroke="#111" stroke-width="0.45">a</text>
<polygon class="q" points="108.54,82.45 110.14,82.45 109.85,85.55 108.82,85.55" fill="#111"/>
<polygon class="q" points="112.17,82.45 113.77,82.45 113.48,85.55 112.45,85.55" fill="#111"/>
<polygon class="q" points="130.38,82.45 131.98,82.45 131.70,85.55 130.67,85.55" fill="#111"/>
<polygon class="q" points="133.82,82.45 135.42,82.45 135.13,85.55 134.10,85.55" fill="#111"/>
<polygon class="q" points="321.10,36.35 322.80,36.35 322.49,39.85 321.41,39.85" fill="#111"/>
<polygon class="q" points="135.15,147.65 136.85,147.65 136.54,151.15 135.46,151.15" fill="#111"/>
<polygon class="q" points="309.90,124.95 311.60,124.95 311.29,128.25 310.21,128.25" fill="#111"/>
<polygon class="q" points="478.75,101.85 480.15,101.85 479.90,105.15 479.00,105.15" fill="#2a2a2a"/>
<polygon class="q" points="496.05,101.85 497.45,101.85 497.20,105.15 496.30,105.15" fill="#2a2a2a"/>
<polygon class="q" points="125.15,445.65 126.55,445.65 126.30,449.15 125.40,449.15" fill="#2a2a2a"/>
<polygon class="q" points="196.20,375.45 197.60,375.45 197.35,378.35 196.45,378.35" fill="#2a2a2a"/>
</svg>
</body></html>
